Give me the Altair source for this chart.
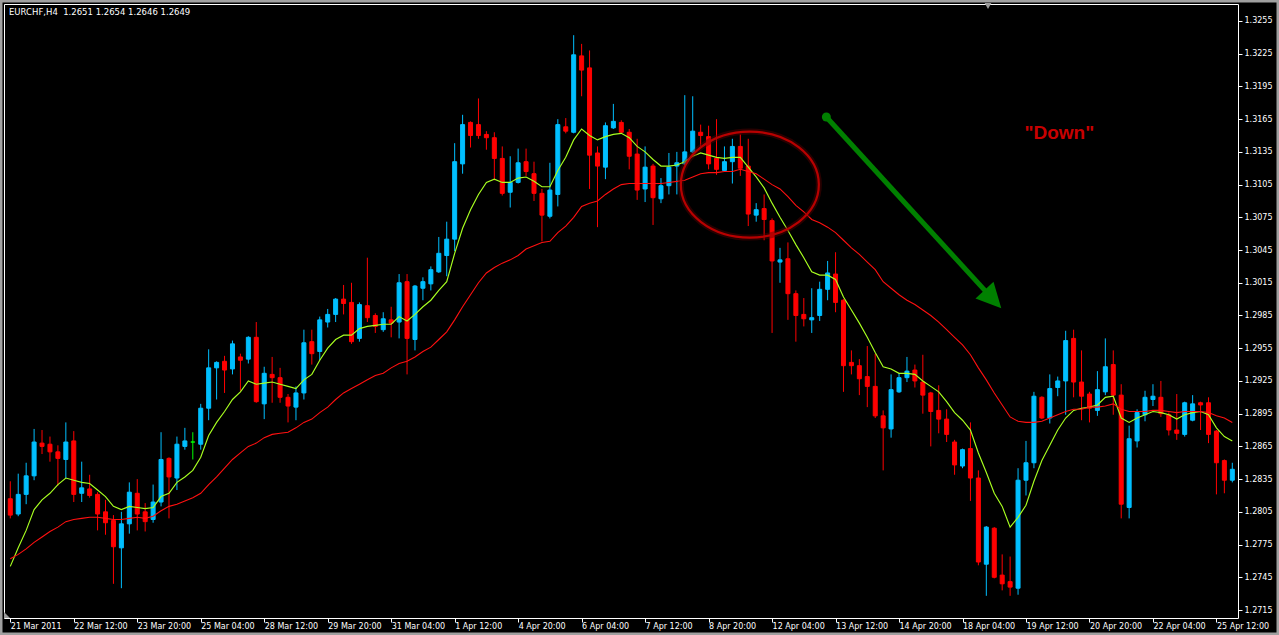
import altair as alt
import pandas as pd

# EURCHF, H4 candles (21 Mar 2011 - 25 Apr 2011), one entry per bar
opens = [
    1.2817, 1.2803, 1.2821, 1.2838, 1.2868, 1.2867, 1.2860, 1.2853, 1.2870, 1.2822,
    1.2826, 1.2821, 1.2805, 1.2797, 1.2772, 1.2794, 1.2822, 1.2805, 1.2798, 1.2814,
    1.2854, 1.2836, 1.2865, 1.2869, 1.2867, 1.2900, 1.2937, 1.2943, 1.2936, 1.2947,
    1.2945, 1.2965, 1.2904, 1.2931, 1.2928, 1.2910, 1.2901, 1.2914, 1.2961, 1.2952,
    1.2979, 1.2986, 1.3000, 1.2997, 1.2964, 1.2994, 1.2985, 1.2972, 1.2981, 1.2979,
    1.3016, 1.2963, 1.3010, 1.3014, 1.3025, 1.3040, 1.3055, 1.3124, 1.3162, 1.3160,
    1.3151, 1.3148, 1.3129, 1.3098, 1.3107, 1.3126, 1.3115, 1.3097, 1.3076, 1.3096,
    1.3158, 1.3153, 1.3223, 1.3212, 1.3134, 1.3121, 1.3157, 1.3162, 1.3153, 1.3133,
    1.3101, 1.3122, 1.3092, 1.3104, 1.3122, 1.3124, 1.3135, 1.3153, 1.3149, 1.3129,
    1.3118, 1.3126, 1.3140, 1.3122, 1.3077, 1.3083, 1.3072, 1.3034, 1.3037, 1.3005,
    1.2986, 1.2981, 1.2985, 1.3009, 1.3023, 1.2999, 1.2942, 1.2939, 1.2929, 1.2920,
    1.2893, 1.2881, 1.2915, 1.2928, 1.2935, 1.2924, 1.2914, 1.2898, 1.2890, 1.2869,
    1.2847, 1.2863, 1.2836, 1.2757, 1.2790, 1.2747, 1.2741, 1.2735, 1.2834, 1.2850,
    1.2910, 1.2891, 1.2919, 1.2925, 1.2964, 1.2924, 1.2913, 1.2898, 1.2915, 1.2940,
    1.2912, 1.2809, 1.2870, 1.2894, 1.2908, 1.2910, 1.2894, 1.2880, 1.2876, 1.2889,
    1.2905, 1.2905, 1.2879, 1.2852, 1.2834,
]
highs = [
    1.2833, 1.2840, 1.2850, 1.2881, 1.2880, 1.2874, 1.2866, 1.2887, 1.2879, 1.2851,
    1.2839, 1.2823, 1.2816, 1.2802, 1.2805, 1.2832, 1.2835, 1.2813, 1.2830, 1.2878,
    1.2855, 1.2874, 1.2882, 1.2878, 1.2904, 1.2954, 1.2943, 1.2948, 1.2962, 1.2950,
    1.2966, 1.2979, 1.2938, 1.2947, 1.2937, 1.2913, 1.2920, 1.2972, 1.2972, 1.2984,
    1.2991, 1.3001, 1.3013, 1.3015, 1.2997, 1.3038, 1.2987, 1.2988, 1.2993, 1.3023,
    1.3023, 1.3013, 1.3020, 1.3030, 1.3057, 1.3071, 1.3143, 1.3169, 1.3163, 1.3184,
    1.3154, 1.3153, 1.3140, 1.3131, 1.3138, 1.3138, 1.3126, 1.3101, 1.3125, 1.3165,
    1.3166, 1.3242, 1.3234, 1.3228, 1.3140, 1.3162, 1.3179, 1.3164, 1.3156, 1.3147,
    1.3140, 1.3124, 1.3111, 1.3134, 1.3135, 1.3187, 1.3186, 1.3160, 1.3159, 1.3165,
    1.3140, 1.3147, 1.3151, 1.3147, 1.3088, 1.3096, 1.3074, 1.3047, 1.3052, 1.3008,
    1.3001, 1.3010, 1.3016, 1.3035, 1.3043, 1.3000, 1.2953, 1.2945, 1.2957, 1.2950,
    1.2898, 1.2931, 1.2932, 1.2947, 1.2940, 1.2949, 1.2915, 1.2921, 1.2899, 1.2871,
    1.2863, 1.2887, 1.2843, 1.2792, 1.2791, 1.2766, 1.2764, 1.2845, 1.2870, 1.2915,
    1.2911, 1.2931, 1.2929, 1.2971, 1.2972, 1.2953, 1.2915, 1.2934, 1.2964, 1.2953,
    1.2922, 1.2884, 1.2899, 1.2916, 1.2922, 1.2925, 1.2896, 1.2913, 1.2906, 1.2912,
    1.2906, 1.2910, 1.2880, 1.2853, 1.2850,
]
lows = [
    1.2799, 1.2801, 1.2812, 1.2834, 1.2858, 1.2851, 1.2829, 1.2836, 1.2814, 1.2814,
    1.2818, 1.2788, 1.2784, 1.2739, 1.2735, 1.2785, 1.2788, 1.2787, 1.2795, 1.2810,
    1.2799, 1.2825, 1.2862, 1.2853, 1.2862, 1.2889, 1.2908, 1.2914, 1.2931, 1.2916,
    1.2941, 1.2905, 1.2890, 1.2905, 1.2905, 1.2887, 1.2889, 1.2908, 1.2940, 1.2944,
    1.2974, 1.2979, 1.2986, 1.2959, 1.2961, 1.2979, 1.2969, 1.2970, 1.2965, 1.2964,
    1.2931, 1.2953, 1.2999, 1.3008, 1.3024, 1.3021, 1.3044, 1.3115, 1.3139, 1.3147,
    1.3137, 1.3109, 1.3095, 1.3084, 1.3106, 1.3113, 1.3090, 1.3053, 1.3074, 1.3085,
    1.3152, 1.3152, 1.3186, 1.3101, 1.3066, 1.3110, 1.3156, 1.3152, 1.3119, 1.3091,
    1.3089, 1.3068, 1.3088, 1.3096, 1.3096, 1.3123, 1.3134, 1.3140, 1.3119, 1.3114,
    1.3117, 1.3106, 1.3113, 1.3067, 1.3071, 1.3054, 1.2969, 1.3015, 1.2981, 1.2961,
    1.2975, 1.2969, 1.2980, 1.2999, 1.2988, 1.2915, 1.2931, 1.2912, 1.2901, 1.2891,
    1.2843, 1.2873, 1.2914, 1.2924, 1.2919, 1.2895, 1.2865, 1.2877, 1.2869, 1.2839,
    1.2845, 1.2815, 1.2756, 1.2728, 1.2744, 1.2733, 1.2728, 1.2729, 1.2820, 1.2845,
    1.2890, 1.2886, 1.2911, 1.2894, 1.2910, 1.2889, 1.2887, 1.2893, 1.2912, 1.2894,
    1.2799, 1.2799, 1.2864, 1.2888, 1.2902, 1.2892, 1.2875, 1.2871, 1.2874, 1.2888,
    1.2880, 1.2868, 1.2821, 1.2822, 1.2832,
]
closes = [
    1.2802, 1.2821, 1.2838, 1.2869, 1.2865, 1.2860, 1.2854, 1.2869, 1.2821, 1.2827,
    1.2820, 1.2803, 1.2795, 1.2773, 1.2794, 1.2823, 1.2803, 1.2796, 1.2814, 1.2853,
    1.2837, 1.2867, 1.2870, 1.2869, 1.2900, 1.2937, 1.2942, 1.2935, 1.2959, 1.2944,
    1.2965, 1.2906, 1.2932, 1.2928, 1.2910, 1.2902, 1.2914, 1.2960, 1.2950, 1.2981,
    1.2986, 1.3000, 1.2996, 1.2961, 1.2995, 1.2983, 1.2975, 1.2982, 1.2978, 1.3015,
    1.2964, 1.3012, 1.3016, 1.3027, 1.3042, 1.3055, 1.3126, 1.3160, 1.3150, 1.3150,
    1.3148, 1.3129, 1.3097, 1.3107, 1.3125, 1.3117, 1.3097, 1.3077, 1.3100, 1.3160,
    1.3154, 1.3224, 1.3210, 1.3132, 1.3122, 1.3159, 1.3163, 1.3153, 1.3131, 1.3100,
    1.3121, 1.3093, 1.3104, 1.3121, 1.3125, 1.3135, 1.3154, 1.3150, 1.3124, 1.3119,
    1.3126, 1.3140, 1.3120, 1.3078, 1.3082, 1.3073, 1.3035, 1.3036, 1.3005, 1.2985,
    1.2982, 1.2983, 1.3009, 1.3024, 1.2997, 1.2939, 1.2939, 1.2927, 1.2920, 1.2893,
    1.2882, 1.2917, 1.2928, 1.2934, 1.2925, 1.2912, 1.2897, 1.2890, 1.2876, 1.2848,
    1.2862, 1.2836, 1.2759, 1.2791, 1.2745, 1.2739, 1.2736, 1.2834, 1.2850, 1.2911,
    1.2891, 1.2918, 1.2925, 1.2962, 1.2924, 1.2911, 1.2900, 1.2917, 1.2938, 1.2912,
    1.2812, 1.2872, 1.2896, 1.2910, 1.2911, 1.2895, 1.2880, 1.2877, 1.2905, 1.2904,
    1.2903, 1.2876, 1.2850, 1.2834, 1.2844,
]

# Moving-average indicator values at each bar
ma_fast = [
    1.2755, 1.2772, 1.2788, 1.2807, 1.2816, 1.2822, 1.2830, 1.2836, 1.2834, 1.2832,
    1.2831, 1.2825, 1.2819, 1.2810, 1.2807, 1.2810, 1.2809, 1.2808, 1.2809, 1.2819,
    1.2822, 1.2832, 1.2837, 1.2843, 1.2855, 1.2875, 1.2887, 1.2897, 1.2908, 1.2915,
    1.2925, 1.2922, 1.2923, 1.2924, 1.2922, 1.2920, 1.2918, 1.2926, 1.2931, 1.2944,
    1.2955, 1.2963, 1.2967, 1.2967, 1.2973, 1.2975, 1.2976, 1.2977, 1.2977, 1.2984,
    1.2980, 1.2986, 1.2993, 1.2999, 1.3008, 1.3016, 1.3042, 1.3065, 1.3082, 1.3096,
    1.3107, 1.3110, 1.3107, 1.3107, 1.3111, 1.3112, 1.3108, 1.3103, 1.3103, 1.3118,
    1.3130, 1.3146, 1.3156, 1.3150, 1.3146, 1.3149, 1.3151, 1.3152, 1.3148, 1.3140,
    1.3135, 1.3128, 1.3122, 1.3122, 1.3123, 1.3126, 1.3131, 1.3134, 1.3132, 1.3130,
    1.3129, 1.3130, 1.3130, 1.3121, 1.3112, 1.3102, 1.3088, 1.3075, 1.3063, 1.3050,
    1.3038, 1.3025, 1.3022, 1.3022, 1.3018, 1.3002, 1.2990, 1.2978, 1.2965, 1.2951,
    1.2938, 1.2936, 1.2932, 1.2932, 1.2931, 1.2925, 1.2920, 1.2915, 1.2906, 1.2896,
    1.2889, 1.2880, 1.2859, 1.2841, 1.2822, 1.2810, 1.2791, 1.2800, 1.2811, 1.2833,
    1.2852, 1.2866, 1.2880, 1.2891, 1.2898, 1.2900, 1.2901, 1.2903, 1.2910, 1.2911,
    1.2891, 1.2887, 1.2891, 1.2894, 1.2897, 1.2896, 1.2894, 1.2890, 1.2894, 1.2896,
    1.2897, 1.2894, 1.2882, 1.2874, 1.2870,
]
ma_slow = [
    1.2762, 1.2766, 1.2771, 1.2777, 1.2782, 1.2787, 1.2791, 1.2796, 1.2798, 1.2799,
    1.2800, 1.2800, 1.2799, 1.2798, 1.2798, 1.2799, 1.2800, 1.2799, 1.2801, 1.2806,
    1.2810, 1.2812, 1.2815, 1.2818, 1.2822, 1.2830, 1.2837, 1.2845, 1.2853, 1.2859,
    1.2865, 1.2868, 1.2873, 1.2876, 1.2877, 1.2878, 1.2882, 1.2887, 1.2890, 1.2896,
    1.2901, 1.2908, 1.2914, 1.2918, 1.2922, 1.2926, 1.2930, 1.2932, 1.2937, 1.2941,
    1.2943, 1.2947, 1.2952, 1.2956, 1.2963, 1.2970, 1.2981, 1.2993, 1.3004, 1.3015,
    1.3024, 1.3029, 1.3033, 1.3036, 1.3040, 1.3046, 1.3049, 1.3052, 1.3053, 1.3061,
    1.3067, 1.3075, 1.3085, 1.3088, 1.3090, 1.3096, 1.3101, 1.3105, 1.3106, 1.3106,
    1.3106, 1.3106, 1.3106, 1.3107, 1.3108, 1.3109, 1.3112, 1.3115, 1.3116, 1.3116,
    1.3117, 1.3117, 1.3119, 1.3117, 1.3115, 1.3110, 1.3105, 1.3101, 1.3094, 1.3086,
    1.3080, 1.3073, 1.3070, 1.3066, 1.3061, 1.3054, 1.3047, 1.3041, 1.3034, 1.3027,
    1.3016, 1.3010, 1.3004, 1.2999, 1.2995, 1.2990, 1.2985, 1.2979, 1.2972, 1.2965,
    1.2958, 1.2949, 1.2937, 1.2926, 1.2914, 1.2903, 1.2892, 1.2888, 1.2887, 1.2887,
    1.2888, 1.2891, 1.2894, 1.2897, 1.2899, 1.2899, 1.2901, 1.2901, 1.2902, 1.2904,
    1.2899, 1.2897, 1.2897, 1.2897, 1.2898, 1.2898, 1.2897, 1.2896, 1.2897, 1.2897,
    1.2897, 1.2896, 1.2893, 1.2891, 1.2887,
]

# Time axis: bar index of each label and its text
tick_bars = [0, 8, 16, 24, 32, 40, 48, 56, 64, 72, 80, 88, 96, 104, 112, 120, 128, 136, 144, 152]
tick_texts = [
    "21 Mar 2011", "22 Mar 12:00", "23 Mar 20:00", "25 Mar 04:00", "28 Mar 12:00",
    "29 Mar 20:00", "31 Mar 04:00", "1 Apr 12:00", "4 Apr 20:00", "6 Apr 04:00",
    "7 Apr 12:00", "8 Apr 20:00", "12 Apr 04:00", "13 Apr 12:00", "14 Apr 20:00",
    "18 Apr 04:00", "19 Apr 12:00", "20 Apr 20:00", "22 Apr 04:00", "25 Apr 12:00",
]
price_ticks = [
    1.3255, 1.3225, 1.3195, 1.3165, 1.3135, 1.3105, 1.3075, 1.3045, 1.3015, 1.2985,
    1.2955, 1.2925, 1.2895, 1.2865, 1.2835, 1.2805, 1.2775, 1.2745, 1.2715,
]

header = "EURCHF,H4\u00a0 1.2651 1.2654 1.2646 1.2649"

# Annotation anchors (bar index, price)
circle_at = (93.2, 1.3105)
arrow_from = (102.84, 1.3167)
arrow_to = (123.1, 1.30057)
arrow_head = (123.83, 1.3000)
note_at = (132.2, 1.3152)
note_text = '"Down"'

UP, DOWN, FLAT = "#00bfff", "#ff0000", "#00ff00"
FONT = "DejaVu Sans"

df = pd.DataFrame({
    "i": list(range(len(opens))),
    "open": opens, "high": highs, "low": lows, "close": closes,
    "fast": ma_fast, "slow": ma_slow,
})
df["dir"] = ["up" if c > o else ("down" if c < o else "flat") for o, c in zip(opens, closes)]

W, H = 1234, 614
xscale = alt.Scale(domain=[-0.1625, 154.0875], nice=False, zero=False)
yscale = alt.Scale(domain=[1.270767, 1.327058], nice=False, zero=False)

label_lookup = "[" + ",".join("'%s'" % t for t in tick_texts) + "][round(datum.value / 8)]"
xaxis = alt.Axis(
    values=tick_bars, labelExpr=label_lookup, labelAlign="left", labelBaseline="top",
    labelColor="#ffffff", tickColor="#ffffff", tickSize=4, domain=False, grid=False,
    labelFont=FONT, labelFontSize=8, labelPadding=0, labelOverlap=False, labelFlush=False,
)
yaxis = alt.Axis(
    orient="right", values=price_ticks, format=".4f",
    labelColor="#ffffff", tickColor="#ffffff", tickSize=4, domain=False, grid=False,
    labelFont=FONT, labelFontSize=8, labelPadding=2, labelOverlap=False,
)


def X(field="i"):
    return alt.X(f"{field}:Q", scale=xscale, axis=xaxis, title=None)


def Y(field):
    return alt.Y(f"{field}:Q", scale=yscale, axis=yaxis, title=None)


dir_scale = alt.Scale(domain=["up", "down", "flat"], range=[UP, DOWN, FLAT])

base = alt.Chart(df)

wicks = base.mark_rule(strokeWidth=1, clip=True).encode(
    x=X(), y=Y("low"), y2="high:Q",
    color=alt.Color("dir:N", scale=dir_scale, legend=None),
)
bodies = base.mark_bar(size=4, strokeWidth=1, clip=True).encode(
    x=X(), y=Y("open"), y2="close:Q",
    color=alt.Color("dir:N", scale=dir_scale, legend=None),
    stroke=alt.Stroke("dir:N", scale=dir_scale, legend=None),
)
fast_line = base.mark_line(color="#a8ff20", strokeWidth=1.15, clip=True).encode(x=X(), y=Y("fast"))
slow_line = base.mark_line(color="#ff1010", strokeWidth=1.1, clip=True).encode(x=X(), y=Y("slow"))

# Ellipse outline around the moving-average crossover
ellipse_path = (
    "M1,0C1,0.4242,0.5523,0.768,0,0.768C-0.5523,0.768,-1,0.4242,-1,0"
    "C-1,-0.4242,-0.5523,-0.768,0,-0.768C0.5523,-0.768,1,-0.4242,1,0Z"
)
circ_df = pd.DataFrame({"i": [circle_at[0]], "p": [circle_at[1]]})
halo = alt.Chart(circ_df).mark_point(
    shape=ellipse_path, size=19044, filled=False, color="#5a0000", strokeWidth=6, opacity=0.45
).encode(x=X(), y=Y("p"))
ellipse = alt.Chart(circ_df).mark_point(
    shape=ellipse_path, size=19044, filled=False, color="#b80000", strokeWidth=2.2, opacity=1
).encode(x=X(), y=Y("p"))

# Trend arrow
arrow_df = pd.DataFrame({
    "i": [arrow_from[0]], "i2": [arrow_to[0]],
    "p": [arrow_from[1]], "p2": [arrow_to[1]],
})
shaft = alt.Chart(arrow_df).mark_rule(color="#008000", strokeWidth=5).encode(
    x=X(), x2="i2:Q", y=Y("p"), y2="p2:Q"
)
dot = alt.Chart(arrow_df).mark_point(
    shape="circle", size=80, filled=True, color="#008000", opacity=1
).encode(x=X(), y=Y("p"))
head_df = pd.DataFrame({"i": [arrow_head[0]], "p": [arrow_head[1]]})
head = alt.Chart(head_df).mark_point(
    shape="M1,0L-1,-1L-1,1Z", size=605, filled=True, color="#008000", opacity=1, angle=47
).encode(x=X(), y=Y("p"))

note_df = pd.DataFrame({"i": [note_at[0]], "p": [note_at[1]]})
note = alt.Chart(note_df).mark_text(
    text=note_text, font="Liberation Sans", fontSize=19, fontWeight="bold",
    color="#c80000", align="center", baseline="middle"
).encode(x=X(), y=Y("p"))

one = pd.DataFrame({"k": [0]})
title_text = alt.Chart(one).mark_text(
    text=header, font=FONT, fontSize=8.5, color="#ffffff", align="left", baseline="middle"
).encode(x=alt.value(5), y=alt.value(8))

shift_mark = alt.Chart(one).mark_point(
    shape="triangle-down", size=45, filled=True, color="#9a9a9a", opacity=1
).encode(x=alt.value(984), y=alt.value(2))
corner_mark = alt.Chart(one).mark_point(
    shape="M-1,1L-1,-1L1,1Z", size=36, filled=True, color="#9a9a9a", opacity=1
).encode(x=alt.value(3), y=alt.value(611))

frame = alt.Chart(one).mark_rect(
    fill="transparent", stroke="#a0a0a0", strokeWidth=5
).encode(x=alt.value(-4), x2=alt.value(1275), y=alt.value(-4), y2=alt.value(631))

chart = alt.layer(
    wicks, bodies, fast_line, slow_line, halo, ellipse, shaft, dot, head, note,
    title_text, shift_mark, corner_mark, frame,
).properties(
    width=W, height=H,
    padding={"left": 4, "top": 4, "right": 41, "bottom": 17},
    autosize=alt.AutoSizeParams(type="none"),
    background="#000000",
).configure_view(
    stroke="#ffffff", strokeWidth=1
)

chart.save("out.html", embed_options={"renderer": "svg", "actions": False})
